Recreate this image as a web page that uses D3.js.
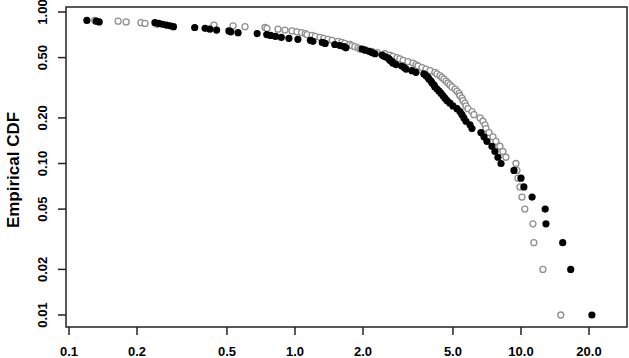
<!DOCTYPE html>
<meta charset="utf-8">
<style>
body {
    margin: 0;
    background: white;
}

.chart text {
    font-family: "Liberation Sans", Arial, sans-serif;
    fill: black;
}

.tick-label {
    font-size: 13px;
    font-weight: bold;
}

.axis-title {
    font-size: 17px;
    font-weight: bold;
}
</style>
<script src="https://cdnjs.cloudflare.com/ajax/libs/d3/7.8.5/d3.min.js"></script>
<svg class="chart" width="629" height="358"></svg>
<script>
// Samples that fall inside the plotted range, sorted ascending.
// Each group had 100 samples in total; the smallest ones sit left of 0.1.
var sampleSize = 100;

var blackSamples = [
    0.120, 0.132, 0.136, 0.24, 0.25, 0.26, 0.27, 0.28, 0.29, 0.36,
    0.40, 0.42, 0.45, 0.51, 0.52, 0.56, 0.68, 0.75, 0.78, 0.82,
    0.87, 0.94, 1.03, 1.17, 1.20, 1.32, 1.36, 1.50, 1.58, 1.65,
    1.68, 1.98, 2.04, 2.13, 2.19, 2.26, 2.43, 2.48, 2.55, 2.61,
    2.63, 2.69, 2.71, 2.80, 2.97, 3.04, 3.10, 3.29, 3.43, 3.72,
    3.80, 3.88, 3.92, 4.00, 4.04, 4.12, 4.16, 4.25, 4.34, 4.43,
    4.52, 4.61, 4.71, 4.85, 5.00, 5.21, 5.37, 5.48, 5.59, 5.71,
    5.95, 6.07, 6.65, 6.86, 7.07, 7.44, 7.67, 7.91, 8.16, 9.31,
    10.0, 10.3, 11.2, 12.8, 12.9, 15.3, 16.6, 20.6
];

var graySamples = [
    0.130, 0.165, 0.179, 0.208, 0.217, 0.245, 0.438, 0.532, 0.601, 0.737,
    0.752, 0.841, 0.903, 0.970, 1.02, 1.07, 1.11, 1.13, 1.19, 1.23,
    1.29, 1.34, 1.40, 1.46, 1.55, 1.61, 1.66, 1.75, 1.79, 1.84,
    1.90, 1.94, 2.06, 2.19, 2.31, 2.50, 2.63, 2.71, 2.83, 2.91,
    3.01, 3.16, 3.33, 3.43, 3.50, 3.65, 3.80, 3.96, 4.16, 4.25,
    4.38, 4.47, 4.56, 4.66, 4.75, 4.85, 4.95, 5.11, 5.21, 5.32,
    5.37, 5.48, 5.54, 5.65, 5.71, 5.83, 6.07, 6.19, 6.59, 6.79,
    6.93, 7.00, 7.22, 7.52, 7.75, 8.07, 8.32, 8.58, 9.50, 9.60,
    9.70, 9.90, 10.1, 10.4, 11.3, 11.4, 12.5, 15.0
];

var xTicks = [0.1, 0.2, 0.5, 1, 2, 5, 10, 20];
var xTickLabels = ["0.1", "0.2", "0.5", "1.0", "2.0", "5.0", "10.0", "20.0"];
var yTicks = [0.01, 0.02, 0.05, 0.1, 0.2, 0.5, 1];
var yTickLabels = ["0.01", "0.02", "0.05", "0.10", "0.20", "0.50", "1.00"];

// Fraction of the sample at or above each value (largest value -> 1/n).
function survivalPoints(samples) {
    var m = samples.length;
    return samples.map(function(v, i) {
        return { x: v, p: (m - i) / sampleSize };
    });
}

var svg = d3.select(".chart");

var box = { left: 66, top: 7, right: 627, bottom: 327 };

var scaleX = d3.scaleLog().domain([0.1, 20]).range([69, 589]);
var scaleY = d3.scaleLog().domain([0.01, 1]).range([315, 12]);

// grey open circles go underneath the black ones
svg.append("g")
    .selectAll("circle")
    .data(survivalPoints(graySamples))
    .join("circle")
    .attr("cx", function(d) { return scaleX(d.x); })
    .attr("cy", function(d) { return scaleY(d.p); })
    .attr("r", 3)
    .attr("fill", "white")
    .attr("stroke", "#8f8f8f")
    .attr("stroke-width", 1.3);

svg.append("g")
    .selectAll("circle")
    .data(survivalPoints(blackSamples))
    .join("circle")
    .attr("cx", function(d) { return scaleX(d.x); })
    .attr("cy", function(d) { return scaleY(d.p); })
    .attr("r", 3.6)
    .attr("fill", "black");

svg.append("rect")
    .attr("x", box.left)
    .attr("y", box.top)
    .attr("width", box.right - box.left)
    .attr("height", box.bottom - box.top)
    .attr("fill", "none")
    .attr("stroke", "#222")
    .attr("stroke-width", 1.5);

// x axis
var xAxis = svg.append("g");
xAxis.selectAll("line")
    .data(xTicks)
    .join("line")
    .attr("x1", function(d) { return scaleX(d); })
    .attr("x2", function(d) { return scaleX(d); })
    .attr("y1", box.bottom)
    .attr("y2", box.bottom + 8)
    .attr("stroke", "#222")
    .attr("stroke-width", 1.5);
xAxis.selectAll("text")
    .data(xTicks)
    .join("text")
    .attr("class", "tick-label")
    .attr("x", function(d) { return scaleX(d); })
    .attr("y", 356)
    .attr("text-anchor", "middle")
    .text(function(d, i) { return xTickLabels[i]; });

// y axis, labels run parallel to the axis like R does
var yAxis = svg.append("g");
yAxis.selectAll("line")
    .data(yTicks)
    .join("line")
    .attr("x1", box.left - 8)
    .attr("x2", box.left)
    .attr("y1", function(d) { return scaleY(d); })
    .attr("y2", function(d) { return scaleY(d); })
    .attr("stroke", "#222")
    .attr("stroke-width", 1.5);
yAxis.selectAll("text")
    .data(yTicks)
    .join("text")
    .attr("class", "tick-label")
    .attr("transform", function(d) { return "translate(47," + scaleY(d) + ") rotate(-90)"; })
    .attr("text-anchor", "middle")
    .text(function(d, i) { return yTickLabels[i]; });

svg.append("text")
    .attr("class", "axis-title")
    .attr("transform", "translate(19,170) rotate(-90)")
    .attr("text-anchor", "middle")
    .text("Empirical CDF");
</script>
